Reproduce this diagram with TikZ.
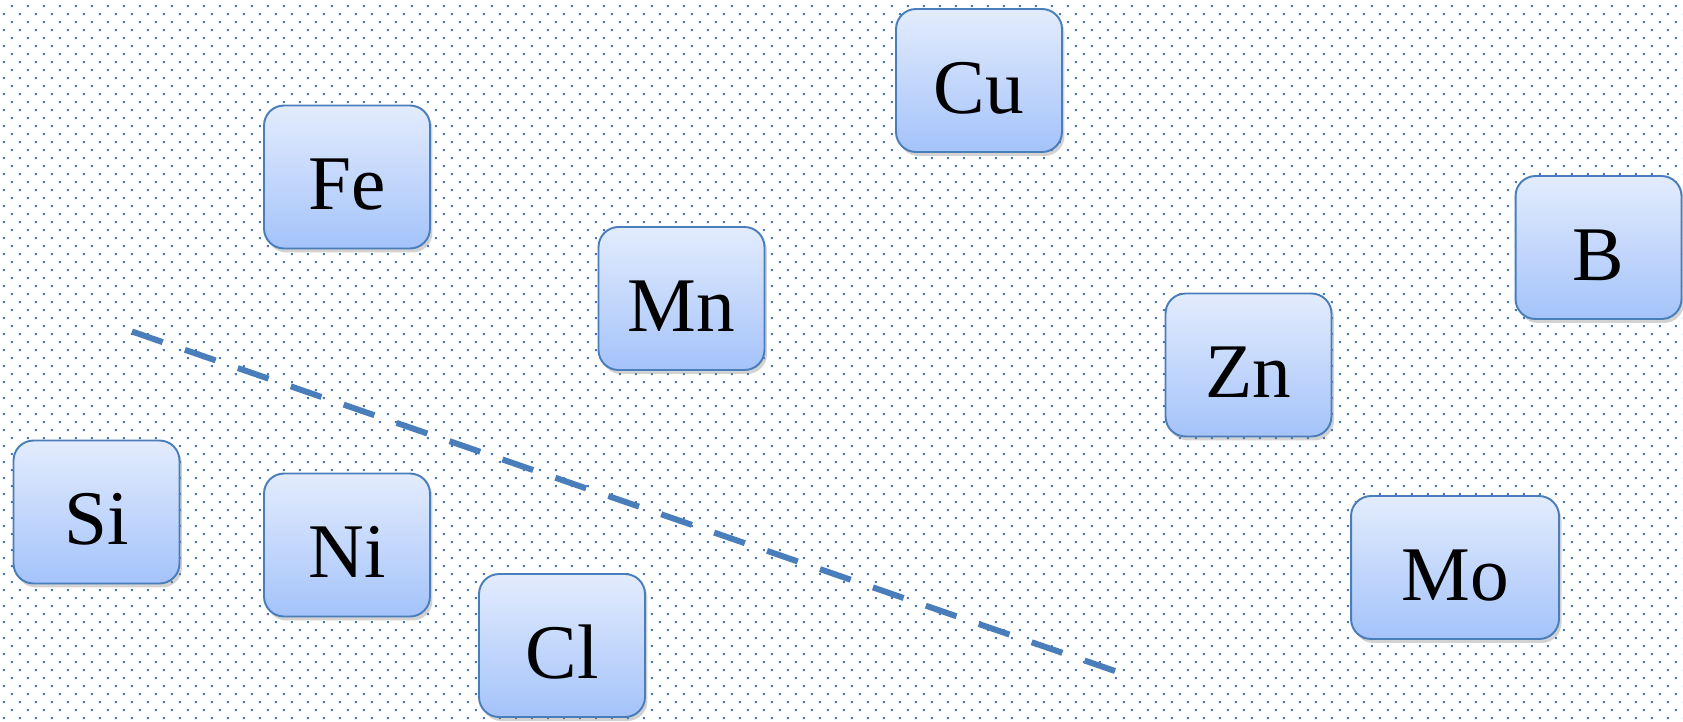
\documentclass[tikz,border=0pt]{standalone}
\usepackage{fontspec}
\setmainfont{Liberation Serif}
\usetikzlibrary{patterns,shadows}
\definecolor{dotblue}{RGB}{70,120,190}
\definecolor{edgeblue}{RGB}{74,126,187}
\definecolor{boxtop}{RGB}{227,236,253}
\definecolor{boxbot}{RGB}{164,195,250}
% staggered dot raster of the background
\pgfdeclarepatternformonly{stagdots}{\pgfpointorigin}{\pgfqpoint{9.105pt}{9.105pt}}{\pgfqpoint{9.105pt}{9.105pt}}{%
  \pgfpathrectangle{\pgfqpoint{1.707pt}{1.707pt}}{\pgfqpoint{1.138pt}{1.138pt}}%
  \pgfpathrectangle{\pgfqpoint{6.26pt}{6.26pt}}{\pgfqpoint{1.138pt}{1.138pt}}%
  \pgfusepath{fill}}
\begin{document}
\begin{tikzpicture}[x=0.02cm, y=-0.02cm,
  elem/.style={draw=edgeblue, line width=1.1pt, rounded corners=0.4cm,
    top color=boxtop, bottom color=boxbot,
    minimum width=3.32cm, minimum height=2.86cm, inner sep=0pt,
    text height=37pt, text depth=0pt,
    font=\fontsize{44}{52}\selectfont,
    drop shadow={shadow xshift=0.05cm, shadow yshift=-0.08cm, opacity=0.35}},
  cutline/.style={edgeblue, line width=3.4pt, dash pattern=on 0.65cm off 0.47cm}]
  \useasboundingbox (0,0) rectangle (1683,721);
  \fill[white] (0,0) rectangle (1683,721);
  \fill[pattern=stagdots, pattern color=dotblue] (0,0) rectangle (1683,721);
  \coordinate (cutA) at (132,331.5);
  \coordinate (cutB) at (1115,671);
  \draw[cutline] (cutA) -- (cutB);
  \node[elem] (cu) at (979,80.5) {Cu};
  \node[elem] (fe) at (347,177) {Fe};
  \node[elem] (mn) at (681.5,298.5) {Mn};
  \node[elem] (b) at (1598.5,247.5) {B};
  \node[elem] (zn) at (1248.5,365) {Zn};
  \node[elem] (si) at (96.5,512) {Si};
  \node[elem] (ni) at (347,545) {Ni};
  \node[elem] (cl) at (562,645.5) {Cl};
  \node[elem, minimum width=4.16cm] (mo) at (1455,567.5) {Mo};
\end{tikzpicture}
\end{document}
